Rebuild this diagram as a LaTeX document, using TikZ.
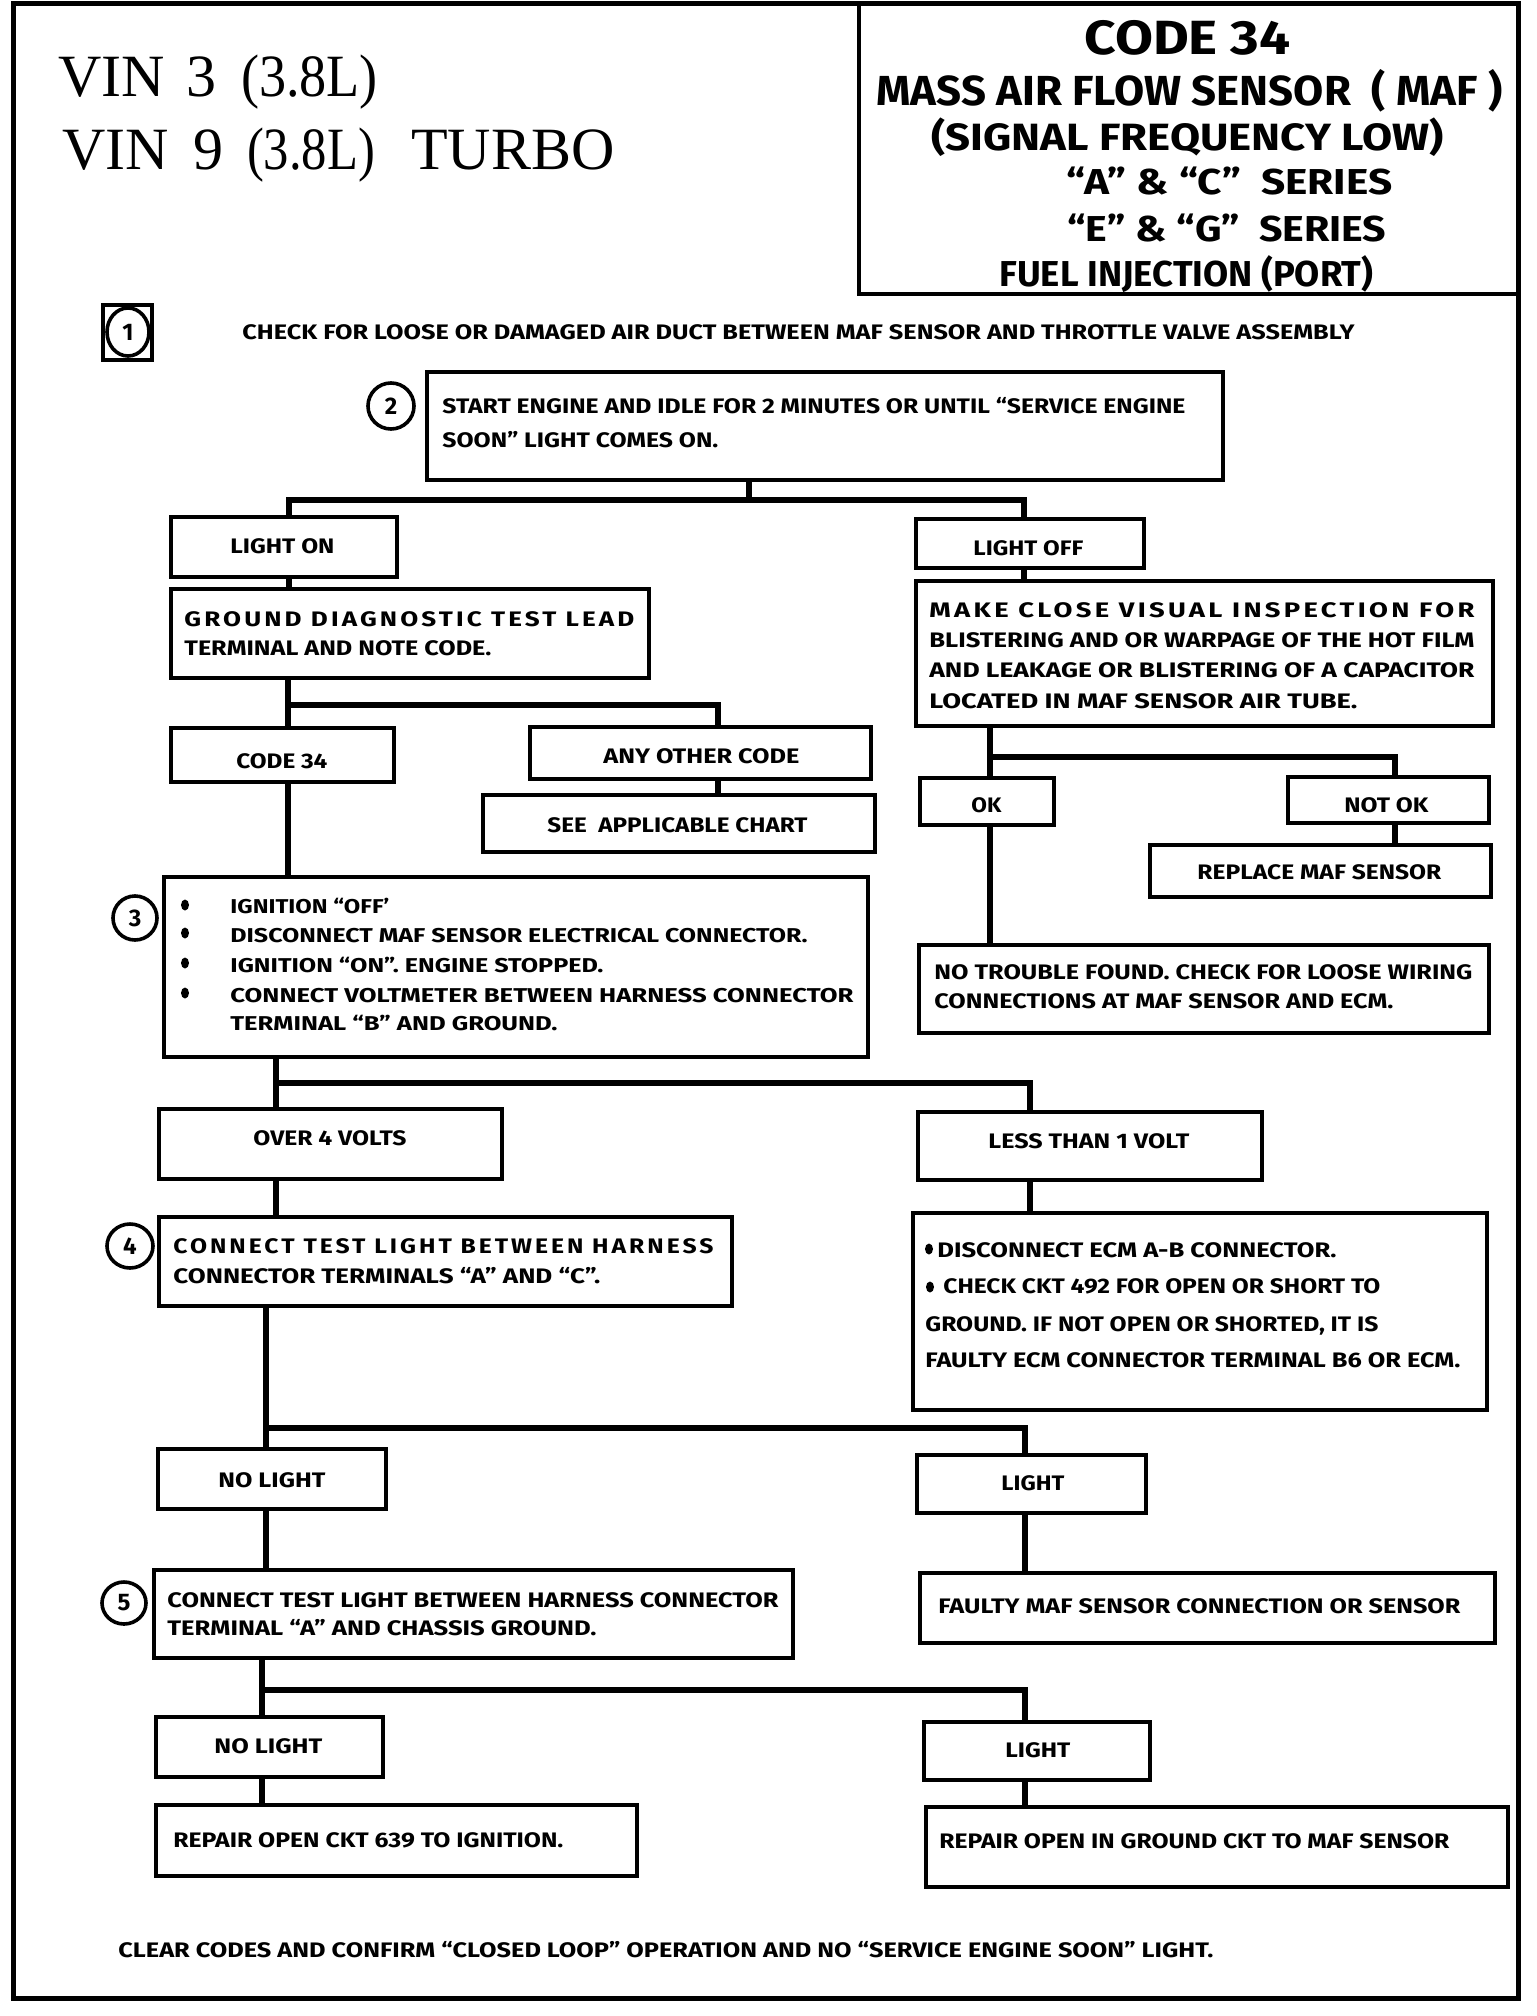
\documentclass[tikz,border=0pt]{standalone}
\usepackage{fontspec}
\usepackage{graphicx}
\setmainfont{Fira Sans}
\newfontfamily\vinfont{Liberation Serif}
\newfontfamily\lsfont[LetterSpace=12]{Fira Sans}
\usetikzlibrary{shapes.geometric}
\newdimen\pxu \pxu=0.5pt
\newcommand\fitto[2]{\resizebox{#1\pxu}{\height}{#2}}
\newcommand\boxat[5]{\node[bx, minimum width={(#4-#2)*0.5pt}, minimum height={(#5-#3)*0.5pt}] (#1) at (#2,#3) {};}
\tikzset{
  bx/.style={draw, line width=1.8pt, inner sep=0pt, outer sep=0pt, anchor=north west},
  conn/.style={line width=3.2pt},
  tx/.style={inner sep=0pt, anchor=base west, font=\bfseries\fontsize{10.5}{12}\selectfont},
  txs/.style={tx, font=\bfseries\fontsize{10}{12}\selectfont},
  txl/.style={tx, font=\lsfont\bfseries\fontsize{10.5}{12}\selectfont},
  tt/.style={inner sep=0pt, anchor=base west},
  stepc/.style={ellipse, draw, line width=1.8pt, inner sep=0pt, font=\bfseries\fontsize{12}{14}\selectfont},
  dot/.style={ellipse, fill, inner sep=0pt, minimum width=4pt, minimum height=5.5pt},
}
\begin{document}
\begin{tikzpicture}[x=0.5pt,y=-0.5pt]
\useasboundingbox (0,0) rectangle (1536,2016);
\fill[white] (0,0) rectangle (1536,2016);
\draw[line width=2.5pt] (13,4) rectangle (1518,1998);

% VIN text
\node[tt, font=\vinfont\fontsize{30}{32}\selectfont] (vin3) at (58,97) {VIN\hspace{11pt}3\hspace{12pt}\fitto{137}{(3.8L)}};
\node[tt, font=\vinfont\fontsize{30}{32}\selectfont] (vin9) at (62,170) {VIN\hspace{12pt}9\hspace{12pt}\fitto{128}{(3.8L)}\hspace{18pt}TURBO};

% title
\boxat{title}{859}{4}{1518}{294}
\node[tt, font=\bfseries\fontsize{24}{26}\selectfont] (tc) at (1084,55) {\fitto{206}{CODE 34}};
\node[tt, font=\bfseries\fontsize{21}{24}\selectfont] (tm) at (876,106) {\fitto{626}{MASS AIR FLOW SENSOR\ \ ( MAF )}};
\node[tt, font=\bfseries\fontsize{19}{22}\selectfont] (tsg) at (931,151) {\fitto{512}{(SIGNAL FREQUENCY LOW)}};
\node[tt, font=\bfseries\fontsize{18}{20}\selectfont] (tac) at (1066,195) {\fitto{326}{“A” \& “C”\ \ SERIES}};
\node[tt, font=\bfseries\fontsize{18}{20}\selectfont] (teg) at (1067,242) {\fitto{319}{“E” \& “G”\ \ SERIES}};
\node[tt, font=\bfseries\fontsize{18}{20}\selectfont] (tfi) at (999,287) {\fitto{374}{FUEL INJECTION (PORT)}};

% step 1
\node[bx, anchor=center, minimum width=24.5pt, minimum height=27.5pt] (s1box) at (127.5,332.5) {};
\node[stepc, minimum width=21pt, minimum height=24pt] (c1) at (128,332) {1};
\node[tx] (t1) at (242,340) {\fitto{1112}{CHECK FOR LOOSE OR DAMAGED AIR DUCT BETWEEN MAF SENSOR AND THROTTLE VALVE ASSEMBLY}};

% step 2
\node[stepc, minimum width=23pt, minimum height=23pt] (c2) at (391,406) {2};
\boxat{b2}{427}{372}{1223}{480}
\node[tx] (t2a) at (442,414) {\fitto{743}{START ENGINE AND IDLE FOR 2 MINUTES OR UNTIL “SERVICE ENGINE}};
\node[tx] (t2b) at (442,448) {\fitto{276}{SOON” LIGHT COMES ON.}};

\coordinate (f1a) at (289,500); \coordinate (f1m) at (749,500); \coordinate (f1b) at (1024,500);
\boxat{lon}{171}{517}{397}{577}
\node[tx] (tlon) at (230,553) {\fitto{104}{LIGHT ON}};
\boxat{loff}{916}{519}{1144}{568}
\node[tx] (tloff) at (973,555) {\fitto{110}{LIGHT OFF}};
\draw[conn] (b2.south -| f1m) -- (f1m);
\draw[conn] (lon.north -| f1a) -- (f1a) -- (f1b) -- (loff.north -| f1b);

\boxat{gr}{171}{589}{649}{678}
\node[txl] (tg1) at (184,626) {\fitto{450}{GROUND DIAGNOSTIC TEST LEAD}};
\node[tx] (tg2) at (184,655) {\fitto{307}{TERMINAL AND NOTE CODE.}};
\draw[conn] (lon.south -| f1a) -- (gr.north -| f1a);

\boxat{mk}{916}{581}{1493}{726}
\node[txl] (tm1) at (929,617) {\fitto{545}{MAKE CLOSE VISUAL INSPECTION FOR}};
\node[tx] (tm2) at (929,647) {\fitto{545}{BLISTERING AND OR WARPAGE OF THE HOT FILM}};
\node[tx] (tm3) at (929,677) {\fitto{545}{AND LEAKAGE OR BLISTERING OF A CAPACITOR}};
\node[tx] (tm4) at (929,708) {\fitto{428}{LOCATED IN MAF SENSOR AIR TUBE.}};
\draw[conn] (loff.south -| f1b) -- (mk.north -| f1b);

% fork 2
\coordinate (f2a) at (288,705); \coordinate (f2b) at (718,705);
\boxat{c34}{171}{728}{394}{782}
\node[tx] (tc34) at (236,768) {\fitto{91}{CODE 34}};
\boxat{any}{530}{727}{871}{779}
\node[tx] (tany) at (603,763) {\fitto{196}{ANY OTHER CODE}};
\boxat{see}{483}{795}{875}{852}
\node[tx] (tsee) at (547,832) {\fitto{260}{SEE\ \ APPLICABLE CHART}};
\draw[conn] (gr.south -| f2a) -- (c34.north -| f2a);
\draw[conn] (f2a) -- (f2b) -- (any.north -| f2b);
\draw[conn] (any.south -| f2b) -- (see.north -| f2b);

% step 3
\boxat{s3}{164}{877}{868}{1057}
\draw[conn] (c34.south -| f2a) -- (s3.north -| f2a);
\node[stepc, minimum width=22pt, minimum height=22pt] (c3) at (135,918) {3};
\node[dot] (d1) at (185,905) {};
\node[dot] (d2) at (185,933) {};
\node[dot] (d3) at (185,963) {};
\node[dot] (d4) at (185,993) {};
\node[txs] (t3a) at (230,913) {\fitto{159}{IGNITION “OFF’}};
\node[txs] (t3b) at (230,942) {\fitto{577}{DISCONNECT MAF SENSOR ELECTRICAL CONNECTOR.}};
\node[txs] (t3c) at (230,972) {\fitto{373}{IGNITION “ON”. ENGINE STOPPED.}};
\node[txs] (t3d) at (230,1002) {\fitto{623}{CONNECT VOLTMETER BETWEEN HARNESS CONNECTOR}};
\node[txs] (t3e) at (230,1030) {\fitto{327}{TERMINAL “B” AND GROUND.}};

% fork 3
\coordinate (f3a) at (990,757); \coordinate (f3b) at (1395,757);
\boxat{ok}{920}{778}{1054}{825}
\node[tx] (tok) at (971,812) {\fitto{30}{OK}};
\boxat{nok}{1288}{777}{1489}{823}
\node[tx] (tnok) at (1344,812) {\fitto{84}{NOT OK}};
\boxat{rep}{1150}{845}{1491}{897}
\node[tx] (trep) at (1197,879) {\fitto{244}{REPLACE MAF SENSOR}};
\boxat{ntf}{919}{945}{1489}{1033}
\node[tx] (tn1) at (934,979) {\fitto{538}{NO TROUBLE FOUND. CHECK FOR LOOSE WIRING}};
\node[tx] (tn2) at (934,1008) {\fitto{459}{CONNECTIONS AT MAF SENSOR AND ECM.}};
\draw[conn] (mk.south -| f3a) -- (ok.north -| f3a);
\draw[conn] (f3a) -- (f3b) -- (nok.north -| f3b);
\draw[conn] (nok.south -| f3b) -- (rep.north -| f3b);
\draw[conn] (ok.south -| f3a) -- (ntf.north -| f3a);

% fork 4
\coordinate (f4a) at (276,1083); \coordinate (f4b) at (1030,1083);
\boxat{ov}{159}{1109}{502}{1179}
\node[tx] (tov) at (253,1145) {\fitto{153}{OVER 4 VOLTS}};
\boxat{ls}{918}{1112}{1262}{1180}
\node[tx] (tls) at (988,1148) {\fitto{201}{LESS THAN 1 VOLT}};
\draw[conn] (s3.south -| f4a) -- (ov.north -| f4a);
\draw[conn] (f4a) -- (f4b) -- (ls.north -| f4b);

% step 4
\boxat{s4}{159}{1217}{732}{1306}
\node[stepc, minimum width=23pt, minimum height=22pt] (c4) at (130,1246) {4};
\node[txl] (t4a) at (173,1253) {\fitto{540}{CONNECT TEST LIGHT BETWEEN HARNESS}};
\node[tx] (t4b) at (173,1283) {\fitto{427}{CONNECTOR TERMINALS “A” AND “C”.}};
\draw[conn] (ov.south -| f4a) -- (s4.north -| f4a);

% ECM box
\boxat{ecm}{913}{1213}{1487}{1410}
\draw[conn] (ls.south -| f4b) -- (ecm.north -| f4b);
\node[dot] (e1) at (929,1249) {};
\node[tx] (te1) at (937,1257) {\fitto{399}{DISCONNECT ECM A-B CONNECTOR.}};
\node[dot] (e2) at (930,1287) {};
\node[tx] (te2) at (943,1293) {\fitto{437}{CHECK CKT 492 FOR OPEN OR SHORT TO}};
\node[tx] (te3) at (925,1331) {\fitto{453}{GROUND. IF NOT OPEN OR SHORTED, IT IS}};
\node[tx] (te4) at (925,1367) {\fitto{535}{FAULTY ECM CONNECTOR TERMINAL B6 OR ECM.}};

% fork 5
\coordinate (f5a) at (266,1428); \coordinate (f5b) at (1025,1428);
\boxat{nl}{158}{1449}{386}{1509}
\node[tx] (tnl) at (218,1487) {\fitto{107}{NO LIGHT}};
\boxat{lt}{917}{1455}{1146}{1513}
\node[tx] (tlt) at (1001,1490) {\fitto{63}{LIGHT}};
\draw[conn] (s4.south -| f5a) -- (nl.north -| f5a);
\draw[conn] (f5a) -- (f5b) -- (lt.north -| f5b);

% step 5
\boxat{s5}{154}{1570}{793}{1658}
\node[stepc, minimum width=22pt, minimum height=21pt] (c5) at (124,1603) {5};
\node[tx] (t5a) at (167,1607) {\fitto{611}{CONNECT TEST LIGHT BETWEEN HARNESS CONNECTOR}};
\node[tx] (t5b) at (167,1635) {\fitto{429}{TERMINAL “A” AND CHASSIS GROUND.}};
\draw[conn] (nl.south -| f5a) -- (s5.north -| f5a);
\boxat{fty}{920}{1573}{1495}{1643}
\node[tx] (tfty) at (938,1613) {\fitto{522}{FAULTY MAF SENSOR CONNECTION OR SENSOR}};
\draw[conn] (lt.south -| f5b) -- (fty.north -| f5b);

% fork 6
\coordinate (f6a) at (262,1690); \coordinate (f6b) at (1025,1690);
\boxat{nl2}{156}{1717}{383}{1777}
\node[tx] (tnl2) at (214,1753) {\fitto{108}{NO LIGHT}};
\boxat{lt2}{924}{1722}{1150}{1780}
\node[tx] (tlt2) at (1005,1757) {\fitto{65}{LIGHT}};
\draw[conn] (s5.south -| f6a) -- (nl2.north -| f6a);
\draw[conn] (f6a) -- (f6b) -- (lt2.north -| f6b);
\boxat{r1}{156}{1805}{637}{1876}
\node[tx] (tr1) at (173,1847) {\fitto{390}{REPAIR OPEN CKT 639 TO IGNITION.}};
\boxat{r2}{926}{1807}{1508}{1887}
\node[tx] (tr2) at (939,1848) {\fitto{510}{REPAIR OPEN IN GROUND CKT TO MAF SENSOR}};
\draw[conn] (nl2.south -| f6a) -- (r1.north -| f6a);
\draw[conn] (lt2.south -| f6b) -- (r2.north -| f6b);

\node[tx] (tfin) at (118,1957) {\fitto{1095}{CLEAR CODES AND CONFIRM “CLOSED LOOP” OPERATION AND NO “SERVICE ENGINE SOON” LIGHT.}};
\end{tikzpicture}
\end{document}
